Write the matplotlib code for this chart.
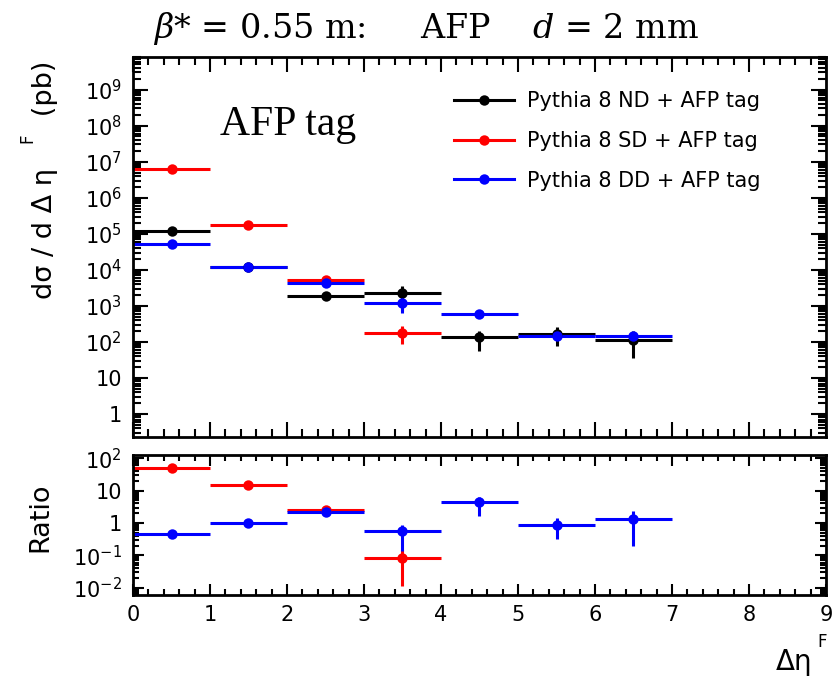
import numpy as np
import matplotlib.pyplot as plt
from matplotlib.ticker import LogLocator, MultipleLocator, FuncFormatter, NullFormatter
from matplotlib.lines import Line2D

plt.rcParams['font.family'] = 'DejaVu Sans'
plt.rcParams['mathtext.fontset'] = 'custom'
plt.rcParams['mathtext.rm'] = 'DejaVu Serif'
plt.rcParams['mathtext.it'] = 'DejaVu Serif:italic'
plt.rcParams['mathtext.sf'] = 'DejaVu Sans'

# bin centres of delta eta^F (bin width 1)
bin_centres = np.array([0.5, 1.5, 2.5, 3.5, 4.5, 5.5, 6.5])
half_width = 0.5

# Pythia 8 ND + AFP tag
nd_y = [1.2e5, 1.2e4, 1.9e3, 2.3e3, 1.35e2, 1.7e2, 1.15e2]
nd_lo = [4e3, 8e2, 1.5e2, 1.6e3, 80, 95, 80]
nd_hi = [4e3, 8e2, 1.5e2, 1.3e3, 60, 90, 80]

# Pythia 8 SD + AFP tag
sd_y = [6.3e6, 1.8e5, 5.2e3, 1.8e2]
sd_lo = [2e5, 1.2e4, 4e2, 95]
sd_hi = [2e5, 1.2e4, 4e2, 90]

# Pythia 8 DD + AFP tag
dd_y = [5.2e4, 1.2e4, 4.4e3, 1.2e3, 6.0e2, 1.5e2, 1.5e2]
dd_lo = [2e3, 6e2, 3e2, 560, 60, 30, 30]
dd_hi = [2e3, 6e2, 3e2, 600, 60, 30, 30]

# ratios to ND
ratio_sd = [50, 14.7, 2.6, 0.083]
ratio_sd_lo = [3, 1.5, 0.3, 0.072]
ratio_sd_hi = [3, 1.5, 0.3, 0.06]
ratio_dd = [0.46, 1.0, 2.2, 0.56, 4.3, 0.89, 1.3]
ratio_dd_lo = [0.03, 0.08, 0.2, 0.42, 2.7, 0.58, 1.1]
ratio_dd_hi = [0.03, 0.08, 0.2, 0.3, 2.0, 0.54, 1.0]

legend_labels = ['Pythia 8 ND + AFP tag', 'Pythia 8 SD + AFP tag', 'Pythia 8 DD + AFP tag']
colors = ['black', '#ff0000', '#0000ff']


def log_label(v, pos):
    e = int(round(np.log10(v)))
    if e == 0:
        return '1'
    if e == 1:
        return '10'
    return r'$\mathsf{10^{%d}}$' % e


def draw(ax, x, y, lo, hi, c):
    ax.errorbar(x, y, xerr=half_width, yerr=[lo, hi], fmt='o', color=c,
                ms=7.5, elinewidth=2.2, capsize=0, mew=0)


def style(ax, major_len, minor_len):
    ax.set_yscale('log')
    ax.set_xlim(0, 9)
    for s in ax.spines.values():
        s.set_linewidth(2)
    ax.xaxis.set_major_locator(MultipleLocator(1))
    ax.xaxis.set_minor_locator(MultipleLocator(0.2))
    ax.yaxis.set_major_locator(LogLocator(base=10, numticks=20))
    ax.yaxis.set_minor_locator(LogLocator(base=10, subs=np.arange(2, 10), numticks=20))
    ax.yaxis.set_major_formatter(FuncFormatter(log_label))
    ax.yaxis.set_minor_formatter(NullFormatter())
    ax.tick_params(which='both', direction='in', top=True, right=True, width=1.5, labelsize=15)
    ax.tick_params(which='major', length=major_len)
    ax.tick_params(which='minor', length=minor_len)
    ax.tick_params(axis='y', pad=8)


fig = plt.figure(figsize=(8.32, 6.83), dpi=100)
ax = fig.add_axes([133 / 832, 1 - 437 / 683, 693 / 832, 380 / 683])
axr = fig.add_axes([133 / 832, 1 - 595 / 683, 693 / 832, 140 / 683])

draw(ax, bin_centres, nd_y, nd_lo, nd_hi, colors[0])
draw(ax, bin_centres[:4], sd_y, sd_lo, sd_hi, colors[1])
draw(ax, bin_centres, dd_y, dd_lo, dd_hi, colors[2])
style(ax, 11, 6)
ax.set_ylim(0.23, 8e9)
ax.tick_params(axis='x', labelbottom=False)

draw(axr, bin_centres[:4], ratio_sd, ratio_sd_lo, ratio_sd_hi, colors[1])
draw(axr, bin_centres, ratio_dd, ratio_dd_lo, ratio_dd_hi, colors[2])
style(axr, 8, 4)
axr.set_ylim(6e-3, 1.25e2)
axr.tick_params(axis='x', pad=7)

handles = [Line2D([], [], color=c, marker='o', ms=7.5, lw=2.2, mew=0) for c in colors]
ax.legend(handles, legend_labels, loc='upper left', bbox_to_anchor=(0.463, 0.91),
          frameon=False, fontsize=15, handlelength=2.9, handletextpad=0.6,
          labelspacing=0.95, borderpad=0, borderaxespad=0)

ax.text(0.1255, 0.795, 'AFP tag', transform=ax.transAxes, family='Liberation Serif',
        fontsize=30, va='baseline')

fig.text(426 / 832, 1 - 38 / 683, r'$\beta$* = 0.55 m:     AFP    $d$ = 2 mm',
         family='DejaVu Serif', fontsize=24, ha='center', va='baseline')

fig.text(45 / 832, 1 - 180 / 683, 'd\u03c3 / d \u0394 \u03b7      (pb)', rotation=90,
         fontsize=19.5, ha='center', va='center')
fig.text(27 / 832, 1 - 138 / 683, 'F', rotation=90, fontsize=12, ha='center', va='center')
fig.text(40 / 832, 1 - 517 / 683, 'Ratio', rotation=90, fontsize=19.5, ha='center', va='center')
fig.text(794 / 832, 1 - 662 / 683, '\u0394\u03b7', fontsize=20, ha='center', va='center')
fig.text(822 / 832, 1 - 642 / 683, 'F', fontsize=12, ha='center', va='center')

fig.savefig('out.png', dpi=100)
